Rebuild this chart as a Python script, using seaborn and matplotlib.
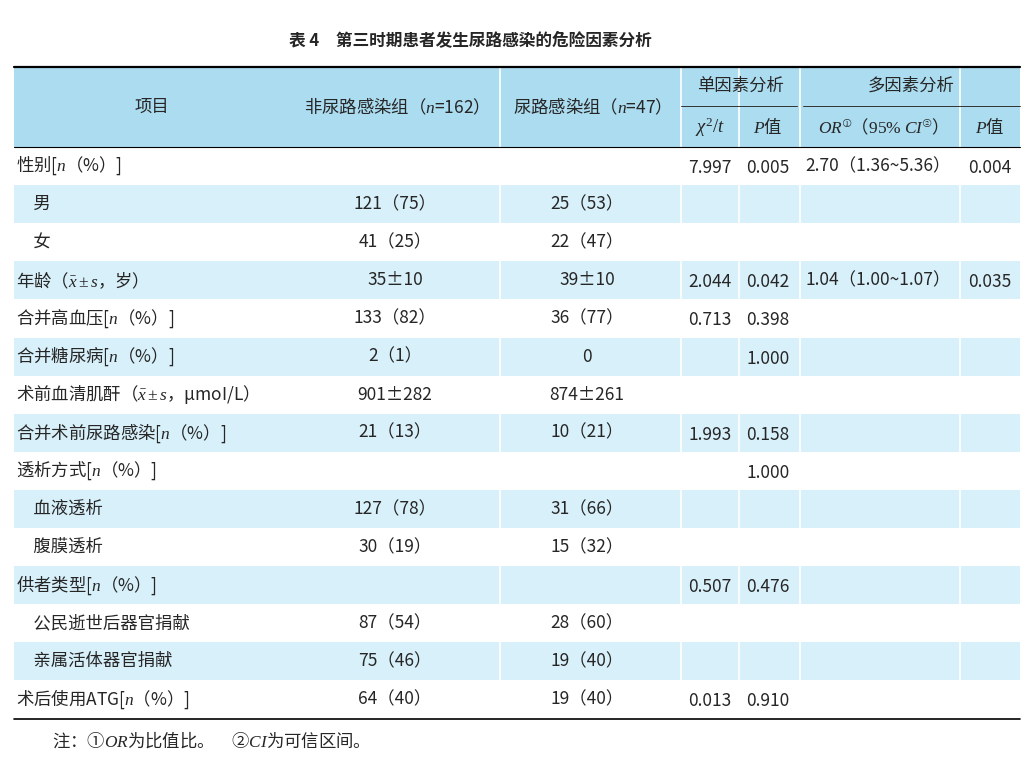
import matplotlib
matplotlib.use("Agg")
import matplotlib.pyplot as plt
import seaborn as sns

sns.set_style("white")
plt.rcParams["font.family"] = ["Noto Sans CJK SC", "DejaVu Sans"]
plt.rcParams["mathtext.fontset"] = "custom"
plt.rcParams["mathtext.it"] = "Liberation Serif:italic"
plt.rcParams["mathtext.rm"] = "Liberation Serif"

TITLE = "表 4　第三时期患者发生尿路感染的危险因素分析"
NOTE = "注：①$OR$为比值比。　②$CI$为可信区间。"

items = ["性别[$n$（%）]", "　男", "　女", "年龄（$\\bar{x}\\pm s$，岁）", "合并高血压[$n$（%）]",
         "合并糖尿病[$n$（%）]", "术前血清肌酐（$\\bar{x}\\pm s$，μmoI/L）", "合并术前尿路感染[$n$（%）]",
         "透析方式[$n$（%）]", "　血液透析", "　腹膜透析", "供者类型[$n$（%）]",
         "　公民逝世后器官捐献", "　亲属活体器官捐献", "术后使用ATG[$n$（%）]"]
non_uti = ["", "121（75）", "41（25）", "35±10", "133（82）", "2（1）", "901±282", "21（13）",
           "", "127（78）", "30（19）", "", "87（54）", "75（46）", "64（40）"]
uti = ["", "25（53）", "22（47）", "39±10", "36（77）", "0", "874±261", "10（21）",
       "", "31（66）", "15（32）", "", "28（60）", "19（40）", "19（40）"]
chi_t = ["7.997", "", "", "2.044", "0.713", "", "", "1.993", "", "", "", "0.507", "", "", "0.013"]
p_uni = ["0.005", "", "", "0.042", "0.398", "1.000", "", "0.158", "1.000", "", "", "0.476", "", "", "0.910"]
or_ci = ["2.70（1.36~5.36）", "", "", "1.04（1.00~1.07）", "", "", "", "", "", "", "", "", "", "", ""]
p_multi = ["0.004", "", "", "0.035", "", "", "", "", "", "", "", "", "", "", ""]

W, H = 1036, 762
fig = plt.figure(figsize=(W / 100, H / 100), dpi=100)
ax = fig.add_axes([0, 0, 1, 1])
ax.set_xlim(0, W)
ax.set_ylim(H, 0)
ax.axis("off")

L, R = 14, 1020
HEAD_C, BAND_C = "#acdcf0", "#d8f0fa"
top, mid, hbot, row_h = 67, 106, 147, 38.1
fs = 12.5

ax.text(470, 40, TITLE, ha="center", va="center", fontsize=12, fontweight="bold")
ax.axhspan(top, hbot, xmin=L / W, xmax=R / W, color=HEAD_C, lw=0)
for i in range(len(items)):
    y0 = hbot + i * row_h
    if i % 2 == 1:
        ax.axhspan(y0, y0 + row_h, xmin=L / W, xmax=R / W, color=BAND_C, lw=0)
bottom = hbot + len(items) * row_h

# white column separators
for x in [681, 739, 800, 960]:
    ax.plot([x, x], [top, bottom], color="white", lw=1.2)
for x in [500]:
    ax.plot([x, x], [top, bottom], color="white", lw=1.2)

ax.plot([L, R], [top, top], color="black", lw=1.6)
ax.plot([L, R], [hbot, hbot], color="black", lw=0.8)
ax.plot([L, R], [bottom, bottom], color="black", lw=1.2)
ax.plot([681, 797], [mid, mid], color="#333333", lw=0.7)
ax.plot([803, R], [mid, mid], color="#333333", lw=0.7)

hc = (top + hbot) / 2
ax.text(152, hc, "项目", ha="center", va="center", fontsize=fs)
ax.text(392, hc, "非尿路感染组（$n$=162）", ha="center", va="center", fontsize=fs)
ax.text(588, hc, "尿路感染组（$n$=47）", ha="center", va="center", fontsize=fs)
ax.text(740, 86, "单因素分析", ha="center", va="center", fontsize=fs)
ax.text(911, 86, "多因素分析", ha="center", va="center", fontsize=fs)
ax.text(710, 127, "$\\chi^2/t$", ha="center", va="center", fontsize=fs + 1)
ax.text(768, 127, "$P$值", ha="center", va="center", fontsize=fs)
ax.text(878, 127, "$OR^{①}$（$95\\%\\ CI^{②}$）", ha="center", va="center", fontsize=fs)
ax.text(990, 127, "$P$值", ha="center", va="center", fontsize=fs)

for i in range(len(items)):
    yc = hbot + i * row_h + row_h / 2
    ax.text(L + 2, yc, items[i], ha="left", va="center", fontsize=fs)
    ax.text(395, yc, non_uti[i], ha="center", va="center", fontsize=fs)
    ax.text(587, yc, uti[i], ha="center", va="center", fontsize=fs)
    ax.text(710, yc + 2, chi_t[i], ha="center", va="center", fontsize=fs)
    ax.text(768, yc + 2, p_uni[i], ha="center", va="center", fontsize=fs)
    ax.text(878, yc, or_ci[i], ha="center", va="center", fontsize=fs)
    ax.text(990, yc + 2, p_multi[i], ha="center", va="center", fontsize=fs)

ax.text(52, 740, NOTE, ha="left", va="center", fontsize=fs)

fig.savefig("out.png", dpi=100)
